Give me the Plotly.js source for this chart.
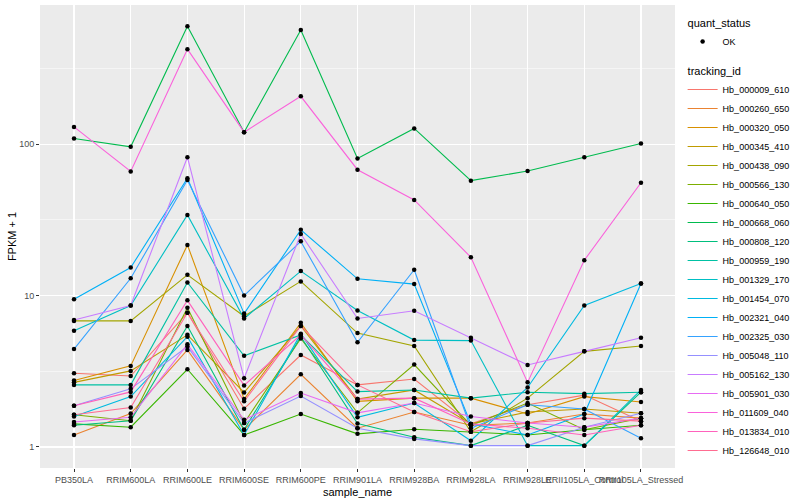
<!DOCTYPE html>
<html>
<head>
<meta charset="utf-8">
<script src="https://cdn.plot.ly/plotly-3.0.1.min.js"></script>
<style>html,body{margin:0;padding:0;background:#fff;}#chart{width:800px;height:500px;}</style>
</head>
<body>
<div id="chart"></div>
<script>
const samples = ["PB350LA","RRIM600LA","RRIM600LE","RRIM600SE","RRIM600PE","RRIM901LA","RRIM928BA","RRIM928LA","RRIM928LE","RRII105LA_Control","RRII105LA_Stressed"];

const trackingIds = ["Hb_000009_610","Hb_000260_650","Hb_000320_050","Hb_000345_410","Hb_000438_090","Hb_000566_130","Hb_000640_050","Hb_000668_060","Hb_000808_120","Hb_000959_190","Hb_001329_170","Hb_001454_070","Hb_002321_040","Hb_002325_030","Hb_005048_110","Hb_005162_130","Hb_005901_030","Hb_011609_040","Hb_013834_010","Hb_126648_010"];

// FPKM + 1 per sample (same order as samples)
const hb_000009_610 = [3.07, 2.94, 7.7, 1.79, 4.05, 2.57, 2.81, 1.42, 1.9, 2.2, 1.48];
const hb_000260_650 = [1.2, 1.66, 4.37, 1.3, 3.02, 1.33, 1.7, 1.39, 1.44, 1.65, 1.55];
const hb_000320_050 = [2.75, 3.43, 21.6, 2.07, 6.6, 2.0, 2.1, 2.1, 1.65, 2.15, 1.98];
const hb_000345_410 = [2.67, 3.18, 5.5, 2.29, 6.3, 2.07, 2.38, 1.42, 1.7, 1.78, 1.67];
const hb_000438_090 = [6.8, 6.8, 13.7, 7.3, 12.4, 5.65, 4.64, 1.26, 2.1, 4.28, 4.64];
const hb_000566_130 = [1.63, 1.49, 8.3, 1.44, 5.2, 1.68, 3.5, 1.39, 1.95, 1.3, 1.55];
const hb_000640_050 = [1.42, 1.35, 3.26, 1.2, 1.65, 1.22, 1.31, 1.26, 1.2, 1.3, 1.39];
const hb_000668_060 = [109, 96, 600, 120, 568, 80.5, 127, 57.4, 66.4, 82, 101];
const hb_000808_120 = [1.39, 1.49, 6.3, 1.3, 5.35, 1.43, 1.16, 1.02, 1.39, 1.02, 2.3];
const hb_000959_190 = [2.57, 2.57, 12.2, 4.0, 5.5, 2.32, 2.38, 2.1, 2.3, 2.25, 2.3];
const hb_001329_170 = [5.86, 8.6, 34.1, 7.05, 14.5, 7.96, 5.08, 5.04, 1.02, 1.02, 2.38];
const hb_001454_070 = [1.59, 2.15, 5.35, 1.2, 5.6, 1.57, 1.95, 1.1, 2.47, 8.6, 12.0];
const hb_002321_040 = [9.45, 15.3, 59.5, 7.6, 27.2, 12.9, 11.9, 1.42, 1.2, 1.65, 12.0];
const hb_002325_030 = [4.43, 13.0, 58, 10.0, 22.8, 4.91, 14.8, 1.33, 1.9, 1.78, 1.14];
const hb_005048_110 = [1.87, 2.42, 4.6, 1.44, 2.17, 1.33, 1.13, 1.02, 1.02, 1.35, 1.67];
const hb_005162_130 = [6.9, 8.6, 82, 2.84, 25.5, 7.06, 7.93, 5.27, 3.48, 4.28, 5.27];
const hb_005901_030 = [1.46, 1.57, 4.76, 1.51, 2.27, 1.68, 1.95, 1.59, 1.44, 1.35, 1.55];
const hb_011609_040 = [130, 66, 424, 120, 207, 67.8, 42.8, 17.9, 2.67, 17.1, 55.6];
const hb_013834_010 = [1.87, 2.31, 9.3, 2.55, 5.5, 2.07, 2.1, 1.42, 1.33, 1.2, 1.39];
const hb_126648_010 = [1.63, 1.82, 7.7, 2.0, 6.3, 2.57, 1.7, 1.26, 1.44, 1.55, 1.48];

const seriesValues = [hb_000009_610, hb_000260_650, hb_000320_050, hb_000345_410, hb_000438_090, hb_000566_130, hb_000640_050, hb_000668_060, hb_000808_120, hb_000959_190, hb_001329_170, hb_001454_070, hb_002321_040, hb_002325_030, hb_005048_110, hb_005162_130, hb_005901_030, hb_011609_040, hb_013834_010, hb_126648_010];

const palette = ["#F8766D","#EA8331","#D89000","#C09B00","#A3A500","#7CAE00","#39B600","#00BB4E","#00BF7D","#00C1A3","#00BFC4","#00BAE0","#00B0F6","#35A2FF","#9590FF","#C77CFF","#E76BF3","#FA62DB","#FF62BC","#FF6C91"];

const yTicks = [1, 10, 100];
const yTickText = ["1", "10", "100"];
const yMinor = [3.1623, 31.623, 316.23];

const traces = [];
trackingIds.forEach((id, i) => {
  traces.push({
    type: "scatter", mode: "lines", x: samples, y: seriesValues[i], name: id,
    line: {color: palette[i], width: 1.1},
    legendgroup: "tracking_id", legendrank: 100 + i,
    legendgrouptitle: {text: "tracking_id", font: {size: 11, color: "#000"}},
    hoverinfo: "name+y"
  });
});
const allX = [], allY = [];
seriesValues.forEach(vals => vals.forEach((v, j) => { allX.push(samples[j]); allY.push(v); }));
traces.push({
  type: "scatter", mode: "markers", x: allX, y: allY, name: "OK",
  marker: {color: "#000", size: 4.5},
  legendgroup: "quant_status", legendrank: 1,
  legendgrouptitle: {text: "quant_status", font: {size: 11, color: "#000"}}
});

const layout = {
  width: 800, height: 500,
  margin: {l: 40, r: 113, t: 5, b: 32},
  paper_bgcolor: "#fff", plot_bgcolor: "#EBEBEB",
  font: {family: "Liberation Sans, Arial, sans-serif", size: 9, color: "#4D4D4D"},
  xaxis: {
    type: "category", range: [-0.6, 10.6], tickangle: 0,
    showgrid: true, gridcolor: "#FFFFFF", gridwidth: 1.1, zeroline: false,
    ticks: "outside", ticklen: 3, tickcolor: "#333", tickwidth: 1,
    tickfont: {size: 9, color: "#4D4D4D"},
    title: {text: "sample_name", font: {size: 11, color: "#000"}, standoff: 4},
    automargin: false, showline: false
  },
  yaxis: {
    type: "log", range: [Math.log10(0.726), Math.log10(830)],
    tickmode: "array", tickvals: yTicks, ticktext: yTickText,
    showgrid: true, gridcolor: "#FFFFFF", gridwidth: 1.1, zeroline: false,
    minor: {tickmode: "array", tickvals: yMinor, showgrid: true, gridcolor: "#FFFFFF", gridwidth: 0.5, ticks: ""},
    ticks: "outside", ticklen: 3, tickcolor: "#333", tickwidth: 1,
    tickfont: {size: 9, color: "#4D4D4D"},
    title: {text: "FPKM + 1", font: {size: 11, color: "#000"}, standoff: 0},
    automargin: false, showline: false
  },
  showlegend: true,
  legend: {
    x: 1.012, xanchor: "left", y: 0.5, yanchor: "middle",
    traceorder: "grouped", tracegroupgap: 10,
    font: {size: 9, color: "#000"}, bgcolor: "rgba(0,0,0,0)",
    itemwidth: 30
  },
  hovermode: "closest"
};

Plotly.newPlot("chart", traces, layout, {displayModeBar: false, staticPlot: true});
</script>
</body>
</html>
